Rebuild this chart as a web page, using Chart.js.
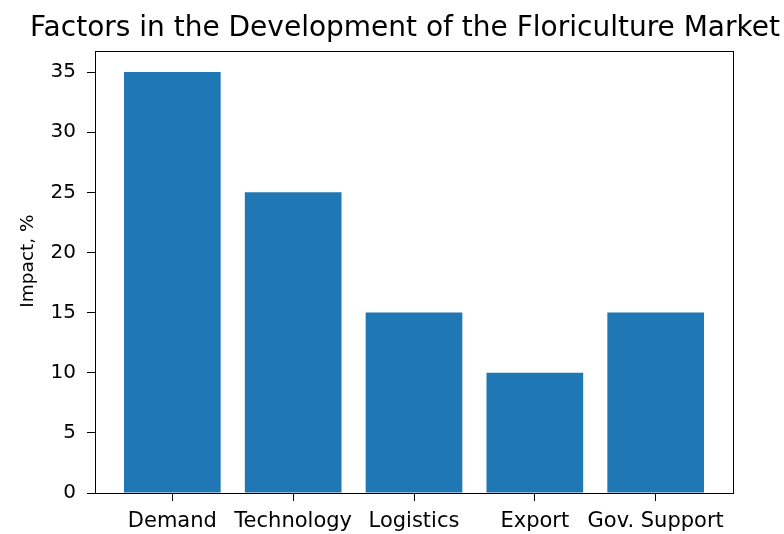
<!DOCTYPE html>
<html>
<head>
<meta charset="utf-8">
<script src="https://cdn.jsdelivr.net/npm/chart.js@4.4.1/dist/chart.umd.min.js"></script>
<style>
  html, body { margin: 0; padding: 0; background: #fff; }
  #wrap { width: 784px; height: 534px; }
</style>
</head>
<body>
<div id="wrap"><canvas id="chart" width="784" height="534"></canvas></div>
<script>
// Chart data
const categories = ['Demand', 'Technology', 'Logistics', 'Export', 'Gov. Support'];
const impactValues = [35, 25, 15, 10, 15];
const yTickValues = [0, 5, 10, 15, 20, 25, 30, 35];

const TITLE = 'Factors in the Development of the Floriculture Market';
const Y_LABEL = 'Impact, %';
const FONT = 'DejaVu Sans';
const BAR_COLOR = '#1f77b4';

// box around the plot area, title and y label (matplotlib look)
const frameAndTitle = {
  id: 'frameAndTitle',
  afterDraw(chart) {
    const { ctx, chartArea } = chart;
    ctx.save();
    ctx.strokeStyle = '#000';
    ctx.lineWidth = 1;
    ctx.strokeRect(Math.round(chartArea.left) + 0.5, Math.round(chartArea.top) + 0.5,
      Math.round(chartArea.right - chartArea.left), Math.round(chartArea.bottom - chartArea.top));

    ctx.fillStyle = '#000';
    ctx.font = '28px "' + FONT + '"';
    ctx.textAlign = 'center';
    ctx.textBaseline = 'alphabetic';
    ctx.fillText(TITLE, 405, 36);

    ctx.font = '18.5px "' + FONT + '"';
    ctx.translate(32.5, 261);
    ctx.rotate(-Math.PI / 2);
    ctx.fillText(Y_LABEL, 0, 0);
    ctx.restore();
  }
};

new Chart(document.getElementById('chart'), {
  type: 'bar',
  data: {
    datasets: [{
      data: categories.map((c, i) => ({ x: i, y: impactValues[i] })),
      backgroundColor: BAR_COLOR,
      borderWidth: 0,
      barPercentage: 0.8,
      categoryPercentage: 1.0,
    }],
  },
  options: {
    responsive: false,
    animation: false,
    layout: { padding: { top: 51, right: 51, left: 0, bottom: 0 } },
    plugins: {
      legend: { display: false },
      title: { display: false },
      tooltip: { enabled: false },
    },
    scales: {
      x: {
        type: 'linear',
        min: -0.64,
        max: 4.64,
        offset: false,
        grid: { offset: false, drawOnChartArea: false, tickLength: 8, tickColor: '#000', tickWidth: 1 },
        border: { display: true, color: '#000', width: 1 },
        afterBuildTicks: (scale) => { scale.ticks = categories.map((c, i) => ({ value: i })); },
        ticks: {
          autoSkip: false,
          maxRotation: 0,
          padding: 8,
          color: '#000',
          font: { family: FONT, size: 21 },
          callback: (v) => categories[v],
        },
        afterFit: (scale) => { scale.height = 41; },
      },
      y: {
        min: 0,
        max: 36.75,
        grid: { drawOnChartArea: false, tickLength: 8, tickColor: '#000', tickWidth: 1 },
        border: { display: true, color: '#000', width: 1 },
        afterBuildTicks: (scale) => { scale.ticks = yTickValues.map(v => ({ value: v })); },
        ticks: {
          padding: 11,
          color: '#000',
          font: { family: FONT, size: 20 },
        },
        afterFit: (scale) => { scale.width = 95; },
      },
    },
  },
  plugins: [frameAndTitle],
});
</script>
</body>
</html>
